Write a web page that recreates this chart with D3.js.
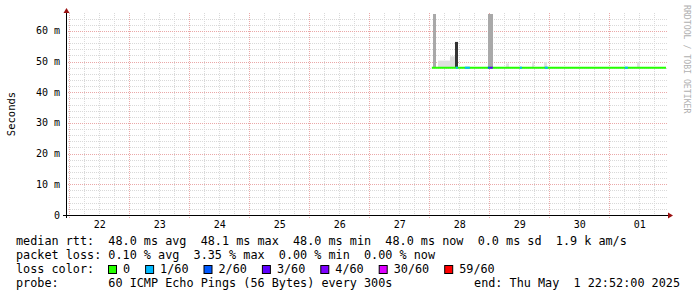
<!DOCTYPE html>
<html lang="en">
<head>
    <meta charset="UTF-8">
    <title>Smokeping latency</title>
    <script src="https://d3js.org/d3.v7.min.js"></script>
    <style>
        body { margin: 0; background: #ffffff; }
        svg { display: block; }
        .mono { font-family: "DejaVu Sans Mono", monospace; }
    </style>
</head>
<body>
    <svg width="697" height="297"></svg>

    <script>
        const width = 697, height = 297;
        const svg = d3.select("svg");
        const parse = d3.timeParse("%Y-%m-%dT%H:%M");

        // time window of the graph (10 days)
        const rangeStart = "2025-04-21T22:52";
        const rangeEnd = "2025-05-01T22:52";

        // median rtt in ms
        const medianTimes = ["2025-04-28T01:12", "2025-04-28T12:00", "2025-04-29T00:00", "2025-04-29T12:00",
                             "2025-04-30T00:00", "2025-04-30T12:00", "2025-05-01T00:00", "2025-05-01T12:00", "2025-05-01T22:52"];
        const medianValues = [48.0, 48.0, 48.0, 48.0, 48.0, 48.0, 48.0, 48.0, 48.0];

        // smoke (ping spread above the median): start, end, highest ping ms, pings in band
        const smokeFrom = ["2025-04-28T01:36", "2025-04-28T03:36", "2025-04-28T08:24", "2025-04-28T10:24",
                           "2025-04-28T23:36", "2025-04-29T07:00", "2025-04-29T17:24", "2025-04-29T22:12", "2025-05-01T11:24"];
        const smokeTo   = ["2025-04-28T02:48", "2025-04-28T08:24", "2025-04-28T10:24", "2025-04-28T11:36",
                           "2025-04-29T01:48", "2025-04-29T08:00", "2025-04-29T18:24", "2025-04-29T23:12", "2025-05-01T12:24"];
        const smokeTop  = [66, 50.3, 51.7, 56.4, 66, 49.4, 50.0, 49.8, 49.8];
        const smokeCount = [20, 4, 5, 55, 20, 3, 3, 3, 3];

        // packet loss episodes: start, end, loss level index
        const lossFrom  = ["2025-04-28T10:48", "2025-04-28T14:24", "2025-04-28T23:36", "2025-04-29T00:24",
                           "2025-04-29T12:24", "2025-04-29T22:24", "2025-05-01T06:24"];
        const lossTo    = ["2025-04-28T11:36", "2025-04-28T16:24", "2025-04-29T00:24", "2025-04-29T01:36",
                           "2025-04-29T13:12", "2025-04-29T23:36", "2025-05-01T07:36"];
        const lossLevel = [1, 1, 2, 3, 1, 1, 1];

        const lossLabels = ["0", "1/60", "2/60", "3/60", "4/60", "30/60", "59/60"];
        const lossColors = ["#26ff00", "#00b8ff", "#0059ff", "#5e00ff", "#7e00ff", "#dd00ff", "#ff0000"];

        const yTicks = [0, 10, 20, 30, 40, 50, 60];

        const legendLines = [
            "median rtt:  48.0 ms avg  48.1 ms max  48.0 ms min  48.0 ms now  0.0 ms sd  1.9 k am/s",
            "packet loss: 0.10 % avg  3.35 % max  0.00 % min  0.00 % now",
            "loss color:",
            "probe:       60 ICMP Echo Pings (56 Bytes) every 300s"
        ];
        const endLabel = "end: Thu May  1 22:52:00 2025";

        // plot area
        const plotLeft = 66, plotRight = 666, plotTop = 14, plotBottom = 215;

        const x = d3.scaleTime().domain([parse(rangeStart), parse(rangeEnd)]).range([plotLeft, plotRight]);
        const y = d3.scaleLinear().domain([0, 65.5]).range([plotBottom, plotTop]);
        const shade = d3.scaleLinear().domain([0, 60]).range(["#ececec", "#222222"]);

        svg.append("rect").attr("width", width).attr("height", height).attr("fill", "#ffffff");

        // grid
        const grid = svg.append("g");
        const minorY = d3.range(2, 66, 2).filter(v => v % 10 !== 0);
        grid.selectAll(".hminor").data(minorY).join("line")
            .attr("x1", plotLeft).attr("x2", plotRight + 2)
            .attr("y1", d => Math.round(y(d)) + 0.5).attr("y2", d => Math.round(y(d)) + 0.5)
            .attr("stroke", "#d9d9d9").attr("stroke-dasharray", "1,1");
        const minorX = d3.timeHour.every(6).range(x.domain()[0], x.domain()[1])
            .filter(d => d.getHours() !== 0);
        grid.selectAll(".vminor").data(minorX).join("line")
            .attr("x1", d => Math.round(x(d)) + 0.5).attr("x2", d => Math.round(x(d)) + 0.5)
            .attr("y1", plotTop - 1).attr("y2", plotBottom)
            .attr("stroke", "#d9d9d9").attr("stroke-dasharray", "1,1");
        grid.selectAll(".hmajor").data(yTicks.slice(1)).join("line")
            .attr("x1", plotLeft).attr("x2", plotRight + 2)
            .attr("y1", d => Math.round(y(d)) + 0.5).attr("y2", d => Math.round(y(d)) + 0.5)
            .attr("stroke", "#eaa8a8").attr("stroke-dasharray", "1,1");
        const days = d3.timeDay.range(x.domain()[0], x.domain()[1]);
        grid.selectAll(".vmajor").data(days).join("line")
            .attr("x1", d => Math.round(x(d)) + 0.5).attr("x2", d => Math.round(x(d)) + 0.5)
            .attr("y1", plotTop - 1).attr("y2", plotBottom + 3)
            .attr("stroke", "#eaa8a8").attr("stroke-dasharray", "1,1");

        // smoke
        svg.append("clipPath").attr("id", "clip").append("rect")
            .attr("x", plotLeft).attr("y", plotTop).attr("width", plotRight - plotLeft).attr("height", plotBottom - plotTop);
        const plot = svg.append("g").attr("clip-path", "url(#clip)");
        smokeFrom.forEach((s, i) => {
            const x0 = x(parse(s)), x1 = x(parse(smokeTo[i]));
            plot.append("rect")
                .attr("x", Math.round(x0)).attr("width", Math.max(1, Math.round(x1 - x0)))
                .attr("y", y(smokeTop[i])).attr("height", y(48) - y(smokeTop[i]))
                .attr("fill", shade(smokeCount[i]));
        });

        // median line coloured by loss
        const medianData = medianTimes.map((t, i) => ({ t: parse(t), v: medianValues[i] }));
        const line = d3.line().x(d => x(d.t)).y(d => y(d.v)).curve(d3.curveStepAfter);
        plot.append("path").datum(medianData).attr("d", line)
            .attr("fill", "none").attr("stroke", lossColors[0]).attr("stroke-width", 2);
        lossFrom.forEach((s, i) => {
            const seg = [{ t: parse(s), v: 48.0 }, { t: parse(lossTo[i]), v: 48.0 }];
            plot.append("path").datum(seg).attr("d", line)
                .attr("fill", "none").attr("stroke", lossColors[lossLevel[i]]).attr("stroke-width", 2);
        });

        // axes
        svg.append("line").attr("x1", 63).attr("x2", plotRight + 3).attr("y1", plotBottom + 0.5).attr("y2", plotBottom + 0.5)
            .attr("stroke", "#000").attr("stroke-width", 1);
        svg.append("line").attr("x1", plotLeft + 0.5).attr("x2", plotLeft + 0.5).attr("y1", plotBottom + 3).attr("y2", 11)
            .attr("stroke", "#000").attr("stroke-width", 1);
        svg.append("path").attr("d", `M${plotRight + 2},${plotBottom - 2.5}L${plotRight + 7},${plotBottom + 0.5}L${plotRight + 2},${plotBottom + 3.5}Z`)
            .attr("fill", "#9a1010");
        svg.append("path").attr("d", `M${plotLeft - 2.5},${13}L${plotLeft + 0.5},${8}L${plotLeft + 3.5},${13}Z`)
            .attr("fill", "#9a1010");

        // tick labels
        svg.append("g").selectAll("text").data(yTicks).join("text")
            .attr("class", "mono")
            .attr("x", 60).attr("y", d => y(d) + 3.5)
            .attr("text-anchor", "end").attr("font-size", 10).attr("fill", "#000")
            .attr("xml:space", "preserve")
            .text(d => d === 0 ? "0" : d + " m");
        svg.append("g").selectAll("text").data(days).join("text")
            .attr("class", "mono")
            .attr("x", d => x(d3.timeHour.offset(d, 12)) + 1).attr("y", 228)
            .attr("text-anchor", "middle").attr("font-size", 10).attr("fill", "#000")
            .text(d3.timeFormat("%d"));

        svg.append("text").attr("class", "mono")
            .attr("transform", "translate(15,114) rotate(-90)")
            .attr("text-anchor", "middle").attr("font-size", 10.5).attr("fill", "#000")
            .text("Seconds");
        svg.append("text").attr("class", "mono")
            .attr("transform", "translate(684,5) rotate(90)")
            .attr("font-size", 8.2).attr("fill", "#b0b0b0")
            .text("RRDTOOL / TOBI OETIKER");

        // legend
        const legend = svg.append("g").attr("class", "mono").attr("font-size", 11.8).attr("fill", "#000");
        const lineY = [245, 259, 273, 287];
        legendLines.forEach((t, i) => {
            legend.append("text").attr("x", 16).attr("y", lineY[i]).attr("xml:space", "preserve").text(t);
        });
        legend.append("text").attr("x", 680).attr("y", lineY[3]).attr("text-anchor", "end")
            .attr("xml:space", "preserve").text(endLabel);
        let lx = 108;
        lossLabels.forEach((lab, i) => {
            svg.append("rect").attr("x", lx + 0.5).attr("y", 265.5).attr("width", 8).attr("height", 8)
                .attr("fill", lossColors[i]).attr("stroke", "#000").attr("stroke-width", 1);
            legend.append("text").attr("x", lx + 15).attr("y", lineY[2]).text(lab);
            lx = lx + 15 + lab.length * 7.1 + 15;
        });
    </script>
</body>
</html>
